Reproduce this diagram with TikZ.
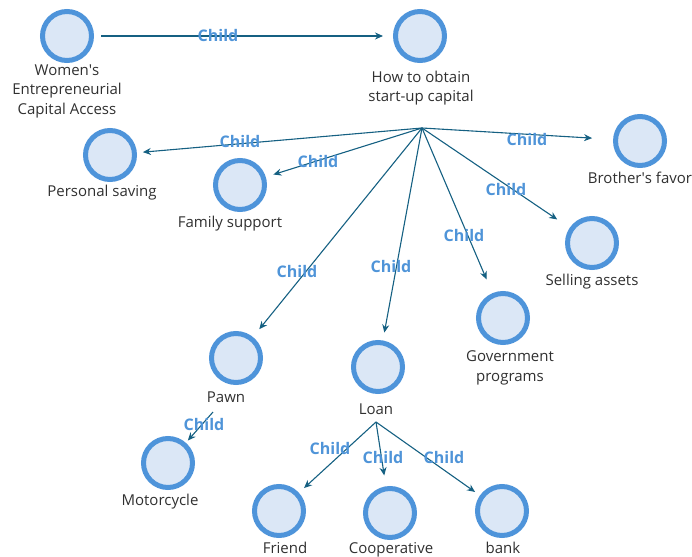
\documentclass[tikz,border=0pt]{standalone}
\usepackage{fontspec}
\setmainfont{Open Sans}
\usetikzlibrary{arrows.meta}
\definecolor{ringblue}{HTML}{4E94DA}
\definecolor{ringfill}{HTML}{DBE7F6}
\definecolor{linkblue}{HTML}{156082}
\definecolor{tagblue}{HTML}{4F94D8}
\definecolor{txtgray}{HTML}{303030}
\tikzset{
  topic/.style={circle, draw=ringblue, fill=ringfill, line width=5pt,
    minimum size=49pt, inner sep=0pt},
  caption/.style={text=txtgray, font=\fontsize{15}{19.5}\selectfont, align=center, inner sep=0pt},
  childtag/.style={text=tagblue, font=\bfseries\fontsize{16}{18}\selectfont, inner sep=0pt},
  link/.style={draw=linkblue, line width=1.1pt, -{Stealth[length=8pt,width=7pt]}}
}
\begin{document}
\begin{tikzpicture}[x=1pt,y=-1pt]
\useasboundingbox (0,0) rectangle (692,556);

% topic circles
\node[topic] (women) at (67,36) {};
\node[topic] (how) at (420,36) {};
\node[topic] (saving) at (110,155) {};
\node[topic] (family) at (240,185) {};
\node[topic] (brother) at (640,141) {};
\node[topic] (selling) at (592,243) {};
\node[topic] (gov) at (503,318) {};
\node[topic] (pawn) at (236,358) {};
\node[topic] (loan) at (378,367) {};
\node[topic] (moto) at (168,463) {};
\node[topic] (friend) at (279,511) {};
\node[topic] (coop) at (390,513) {};
\node[topic] (bank) at (502,511) {};

% captions
\node[caption] (womenT) at (67,91) {Women\textquotesingle s\\Entrepreneurial\\Capital Access};
\node[caption] (howT) at (421,88) {How to obtain\\start-up capital};
\node[caption] (savingT) at (102,193) {Personal saving};
\node[caption] (familyT) at (230,224) {Family support};
\node[caption] (brotherT) at (640,178) {Brother\textquotesingle s favor};
\node[caption] (sellingT) at (592,282) {Selling assets};
\node[caption] (govT) at (510,368) {Government\\programs};
\node[caption] (pawnT) at (226,397) {Pawn};
\node[caption] (loanT) at (376,409) {Loan};
\node[caption] (motoT) at (160,502) {Motorcycle};
\node[caption] (friendT) at (285,548) {Friend};
\node[caption] (coopT) at (391,550) {Cooperative};
\node[caption] (bankT) at (503,548) {bank};

% branching points below the captions
\coordinate (hub) at (422,128);
\coordinate (pawnhub) at (213,412);
\coordinate (loanhub) at (376,422);

% connectors
\draw[link, shorten <=7pt, shorten >=10pt] (women) -- (how);
\draw[link, shorten >=6pt] (hub) -- (saving);
\draw[link, shorten >=8pt] (hub) -- (family);
\draw[link, shorten >=21pt] (hub) -- (brother);
\draw[link, shorten >=15pt] (hub) -- (selling);
\draw[link, shorten >=15pt] (hub) -- (gov);
\draw[link, shorten >=10pt] (hub) -- (pawn);
\draw[link, shorten >=8pt] (hub) -- (loan);
\draw[link, shorten >=3pt] (pawnhub) -- (moto);
\draw[link, shorten >=7pt] (loanhub) -- (friend);
\draw[link, shorten >=11pt] (loanhub) -- (coop);
\draw[link, shorten >=6pt] (loanhub) -- (bank);

% connector labels
\node[childtag] (t1) at (218,36) {Child};
\node[childtag] (t2) at (240,142) {Child};
\node[childtag] (t3) at (318,161) {Child};
\node[childtag] (t4) at (527,140) {Child};
\node[childtag] (t5) at (506,189) {Child};
\node[childtag] (t6) at (464,235) {Child};
\node[childtag] (t7) at (297,271) {Child};
\node[childtag] (t8) at (391,266) {Child};
\node[childtag] (t9) at (204,424) {Child};
\node[childtag] (t10) at (330,448) {Child};
\node[childtag] (t11) at (383,457) {Child};
\node[childtag] (t12) at (444,457) {Child};
\end{tikzpicture}
\end{document}
